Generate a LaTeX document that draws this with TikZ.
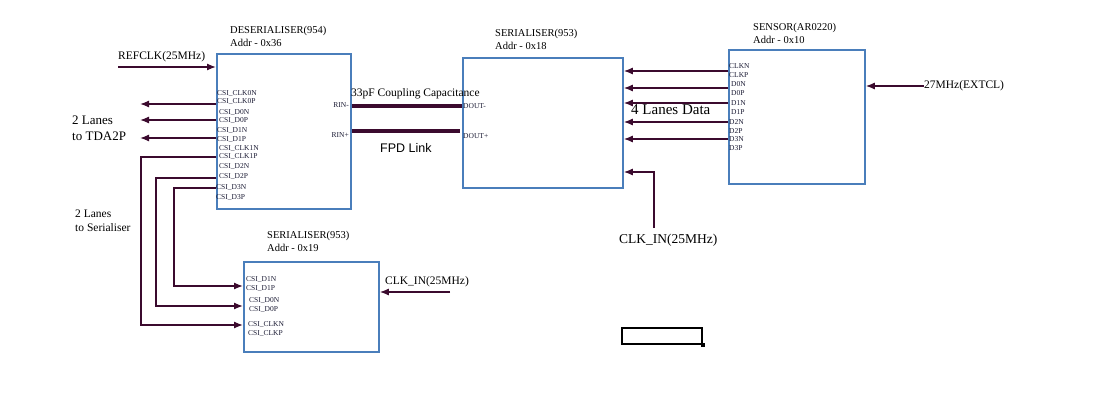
\documentclass[tikz,border=0pt]{standalone}
\usepackage{fontspec}
\setmainfont{Liberation Serif}
\newfontfamily\sansf{Liberation Sans}
\usetikzlibrary{arrows.meta}

\definecolor{boxblue}{HTML}{4A7EBB}
\definecolor{wire}{HTML}{3B0A2E}
\definecolor{porttext}{HTML}{1A1A33}

\tikzset{
	blk/.style={draw=boxblue, line width=1.8pt, inner sep=0pt, anchor=north west},
	port/.style={text=porttext, font=\fontsize{7.5}{8}\selectfont, inner sep=0pt, anchor=west},
	title/.style={font=\fontsize{10.5}{13}\selectfont, inner sep=0pt, anchor=west, align=left},
	lbl/.style={font=\fontsize{11.5}{14}\selectfont, inner sep=0pt, anchor=west, align=left},
	sig/.style={draw=wire, line width=1.3pt, -{Latex[length=9pt,width=7pt]}},
	fpd/.style={draw=wire, line width=4pt}
}

\begin{document}
\begin{tikzpicture}[x=1pt, y=-1pt]
	\useasboundingbox (0,0) rectangle (1114,401);

	% blocks
	\node[blk, minimum width=134pt, minimum height=155pt] (deser) at (216,53) {};
	\node[blk, minimum width=160pt, minimum height=130pt] (ser1) at (462,57) {};
	\node[blk, minimum width=136pt, minimum height=134pt] (sens) at (728,49) {};
	\node[blk, minimum width=135pt, minimum height=90pt] (ser2) at (243,261) {};

	\node[title] (deserT) at (230,36.5) {DESERIALISER(954)\\Addr - 0x36};
	\node[title] (ser1T) at (495,39.5) {SERIALISER(953)\\Addr - 0x18};
	\node[title] (sensT) at (753,33.5) {SENSOR(AR0220)\\Addr - 0x10};
	\node[title] (ser2T) at (267,241) {SERIALISER(953)\\Addr - 0x19};

	% deserialiser ports
	\foreach \t/\x/\y in {CSI\_CLK0N/217/93, CSI\_CLK0P/217/101, CSI\_D0N/219/112, CSI\_D0P/219/120,
		CSI\_D1N/217/131, CSI\_D1P/217/140, CSI\_CLK1N/219/149, CSI\_CLK1P/219/157,
		CSI\_D2N/219/167, CSI\_D2P/219/177, CSI\_D3N/216/188, CSI\_D3P/216/197}
		\node[port] (dp\y) at (\x,\y) {\t};
	\node[port, anchor=east] (rinm) at (349,105) {RIN-};
	\node[port, anchor=east] (rinp) at (349,135) {RIN+};

	% serialiser ports
	\node[port] (doutm) at (463,106) {DOUT-};
	\node[port] (doutp) at (463,136) {DOUT+};
	\foreach \t/\x/\y in {CSI\_D1N/246/279, CSI\_D1P/246/288, CSI\_D0N/249/300,
		CSI\_D0P/249/309, CSI\_CLKN/248/324, CSI\_CLKP/248/333}
		\node[port] (sp\y) at (\x,\y) {\t};

	% sensor ports
	\foreach \t/\x/\y in {CLKN/729/66, CLKP/729/75, D0N/731/84, D0P/731/93, D1N/731/103,
		D1P/731/112, D2N/729/122, D2P/729/131, D3N/729/139, D3P/729/148}
		\node[port] (snp\y) at (\x,\y) {\t};

	% labels
	\node[lbl] (refclk) at (118,57) {REFCLK(25MHz)};
	\node[lbl, font=\fontsize{13}{16}\selectfont] (tda) at (72,128) {2 Lanes\\to TDA2P};
	\node[lbl] (toser) at (75,220.5) {2 Lanes\\to Serialiser};
	\node[lbl] (coup) at (351,94) {33pF Coupling Capacitance};
	\node[lbl, font=\sansf\fontsize{12.5}{14}\selectfont] (fpdlink) at (380,148) {FPD Link};
	\node[lbl, font=\fontsize{15}{18}\selectfont] (lanes) at (631,110) {4 Lanes Data};
	\node[lbl, font=\fontsize{13.5}{16}\selectfont] (clkin1) at (619,240) {CLK\_IN(25MHz)};
	\node[lbl] (clkin2) at (385,282) {CLK\_IN(25MHz)};
	\node[lbl] (ext) at (924,86) {27MHz(EXTCL)};

	\coordinate (refin) at (118,67);
	\coordinate (tda0) at (140,104);
	\coordinate (tda1) at (140,120);
	\coordinate (tda2) at (140,138);
	\coordinate (clkfoot) at (654,228);
	\coordinate (clk2) at (450,292);

	% connectors
	\draw[sig] (refin) -- (deser.west |- refin);
	\draw[sig] (deser.west |- tda0) -- (tda0);
	\draw[sig] (deser.west |- tda1) -- (tda1);
	\draw[sig] (deser.west |- tda2) -- (tda2);

	\draw[sig] (deser.west |- 0,157) -- ++(-75,0) |- (ser2.west |- 0,325);
	\draw[sig] (deser.west |- 0,178) -- ++(-60,0) |- (ser2.west |- 0,306);
	\draw[sig] (deser.west |- 0,188) -- ++(-42,0) |- (ser2.west |- 0,286);

	\draw[fpd] (deser.east |- 0,106) -- (ser1.west |- 0,106);
	\draw[fpd] (deser.east |- 0,131) -- ([xshift=-2pt]ser1.west |- 0,131);

	\foreach \y in {71,88,103,122,139}
		\draw[sig] (sens.west |- 0,\y) -- (ser1.east |- 0,\y);
	\draw[sig] (clkfoot) |- (ser1.east |- 0,172);
	\draw[sig] (ext.west) -- (sens.east |- ext.west);
	\draw[sig] (clk2) -- (ser2.east |- clk2);

	% empty box
	\node[draw, line width=2pt, inner sep=0pt, minimum width=80pt, minimum height=16pt, anchor=north west] (blank) at (621,327) {};
	\node[fill, inner sep=0pt, minimum size=4pt] (corner) at (blank.south east) {};
\end{tikzpicture}
\end{document}
